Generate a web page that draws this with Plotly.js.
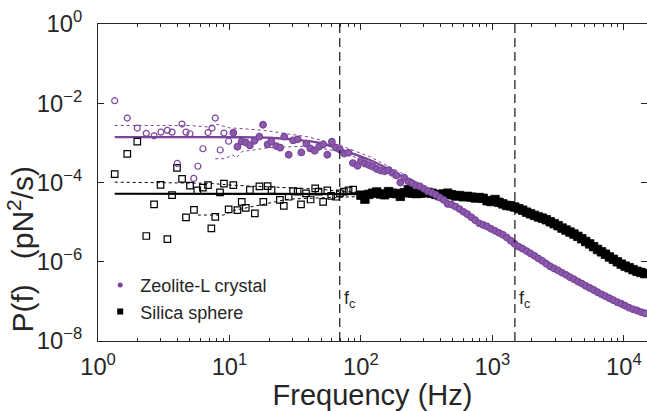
<!DOCTYPE html>
<html>
<head>
<meta charset="utf-8">
<script src="https://cdn.plot.ly/plotly-3.0.1.min.js"></script>
<style>
  html, body { margin: 0; padding: 0; background: #ffffff; }
  #chart { width: 647px; height: 411px; }
</style>
</head>
<body>
<div id="chart"></div>
<script>
// ---------- Data ----------
// Zeolite-L crystal: low-frequency open circles
const zeoOpenF = [1.34, 1.67, 1.99, 2.33, 2.67, 3.01, 3.37, 3.66, 4.01, 4.36, 4.67, 5.01, 5.35, 5.75, 6.28, 6.87, 7.36, 7.80, 8.51, 9.08, 9.86];
const zeoOpenP = [1.16e-2, 4.23e-3, 2.37e-3, 1.74e-3, 1.51e-3, 1.87e-3, 2.07e-3, 1.87e-3, 3.03e-4, 2.99e-3, 1.87e-3, 1.70e-3, 1.27e-4, 2.57e-4, 7.10e-4, 1.82e-3, 2.37e-3, 4.23e-3, 6.61e-4, 1.77e-3, 1.10e-3];

// Zeolite-L crystal: filled circles, 10 - 95 Hz
const zeoMidF = [10.7, 11.5, 12.4, 13.3, 14.3, 15.5, 16.9, 18.0, 19.5, 20.8, 22.7, 24.3, 26.1, 28.2, 30.5, 33.0, 35.2, 38.4, 41.2, 44.5, 48.0, 51.6, 55.5, 60.1, 64.6, 69.2, 74.6, 80.5, 86.9, 94.2];
const zeoMidP = [1.80e-3, 7.98e-4, 1.09e-3, 1.02e-3, 8.63e-4, 1.13e-3, 1.43e-3, 2.87e-3, 9.12e-4, 1.09e-3, 8.32e-4, 7.59e-4, 1.43e-3, 5.01e-4, 1.15e-3, 1.23e-3, 5.75e-4, 9.55e-4, 7.24e-4, 6.31e-4, 7.98e-4, 9.12e-4, 5.01e-4, 1.07e-3, 7.59e-4, 6.76e-4, 5.37e-4, 5.62e-4, 3.09e-4, 2.63e-4];

// Shared high-frequency bins (Hz)
const freqHigh = [100, 107.2, 114.8, 123.0, 131.8, 141.3, 151.4, 162.2, 173.8, 186.2,
  199.5, 213.8, 229.1, 245.5, 263.0, 281.8, 302.0, 323.6, 346.7, 371.5,
  398.1, 426.6, 457.1, 489.8, 524.8, 562.3, 602.6, 645.7, 691.8, 741.3,
  794.3, 851.1, 912.0, 977.2, 1047, 1122, 1202, 1288, 1380, 1479,
  1585, 1698, 1820, 1950, 2089, 2239, 2399, 2570, 2754, 2951,
  3162, 3388, 3631, 3890, 4169, 4467, 4786, 5129, 5495, 5888,
  6310, 6761, 7244, 7762, 8318, 8913, 9550, 10230, 10960, 11750,
  12590, 13490, 14450];

const zeoHighP = [3.55e-4, 3.02e-4, 2.75e-4, 2.51e-4, 2.19e-4, 2.00e-4, 1.91e-4, 2.04e-4, 1.74e-4, 1.51e-4,
  1.00e-4, 1.32e-4, 1.07e-4, 9.55e-5, 8.51e-5, 7.94e-5, 6.92e-5, 6.03e-5, 5.50e-5, 4.90e-5,
  4.17e-5, 3.63e-5, 2.88e-5, 2.75e-5, 2.46e-5, 2.14e-5, 1.82e-5, 1.58e-5, 1.32e-5, 1.12e-5,
  9.33e-6, 8.51e-6, 7.76e-6, 6.76e-6, 6.03e-6, 5.37e-6, 4.79e-6, 4.07e-6, 3.39e-6, 2.82e-6,
  2.40e-6, 2.14e-6, 1.86e-6, 1.62e-6, 1.41e-6, 1.20e-6, 1.05e-6, 8.91e-7, 7.59e-7, 6.76e-7,
  6.03e-7, 5.25e-7, 4.68e-7, 4.07e-7, 3.63e-7, 3.16e-7, 2.82e-7, 2.46e-7, 2.19e-7, 1.95e-7,
  1.70e-7, 1.51e-7, 1.35e-7, 1.20e-7, 1.07e-7, 9.55e-8, 8.71e-8, 7.76e-8, 6.92e-8, 6.31e-8,
  5.89e-8, 5.37e-8, 5.01e-8];

// Silica sphere: open squares up to ~90 Hz
const silOpenF = [1.34, 1.67, 1.99, 2.33, 2.67, 2.99, 3.37, 3.66, 3.99, 4.36, 4.67, 5.01, 5.37, 5.69, 6.28, 6.87, 7.28, 7.80, 8.47, 9.08, 9.86,
  10.7, 11.5, 12.4, 13.3, 14.3, 15.6, 16.9, 18.1, 19.5, 20.9, 24.2, 25.9, 28.2, 30.5, 33.0, 35.0, 38.2, 41.4, 44.9, 47.6, 51.6, 55.5, 59.4, 64.6, 69.2, 74.1, 80.5, 87.3];
const silOpenP = [1.62e-4, 5.25e-4, 1.07e-3, 4.47e-6, 2.82e-5, 8.71e-5, 3.72e-6, 4.81e-5, 2.34e-4, 1.23e-4, 1.32e-5, 8.32e-5, 2.04e-5, 6.31e-5, 7.41e-5, 8.59e-5, 6.92e-6, 1.35e-5, 5.62e-5, 9.33e-5, 2.09e-5,
  8.59e-5, 2.00e-5, 3.24e-5, 2.29e-5, 6.46e-5, 1.66e-5, 7.94e-5, 3.24e-5, 8.13e-5, 6.46e-5, 3.63e-5, 2.57e-5, 4.37e-5, 6.07e-5, 5.89e-5, 2.82e-5, 5.30e-5, 3.72e-5, 7.08e-5, 5.89e-5, 3.24e-5, 6.31e-5, 4.62e-5, 4.37e-5, 5.30e-5, 5.89e-5, 6.31e-5, 6.61e-5];

const silHighP = [4.79e-5, 3.80e-5, 5.01e-5, 5.37e-5, 5.75e-5, 5.13e-5, 4.90e-5, 5.89e-5, 5.37e-5, 5.25e-5,
  4.47e-5, 5.50e-5, 6.61e-5, 5.37e-5, 5.25e-5, 5.37e-5, 5.50e-5, 5.62e-5, 5.37e-5, 5.01e-5,
  4.68e-5, 5.13e-5, 5.37e-5, 4.90e-5, 4.57e-5, 4.68e-5, 4.37e-5, 4.47e-5, 4.27e-5, 4.07e-5,
  4.17e-5, 3.98e-5, 3.47e-5, 3.31e-5, 3.72e-5, 3.16e-5, 2.88e-5, 2.63e-5, 2.57e-5, 2.40e-5,
  2.19e-5, 2.00e-5, 1.78e-5, 1.62e-5, 1.48e-5, 1.35e-5, 1.26e-5, 1.15e-5, 1.02e-5, 9.12e-6,
  8.13e-6, 7.08e-6, 6.31e-6, 5.62e-6, 5.01e-6, 4.37e-6, 3.80e-6, 3.24e-6, 2.82e-6, 2.40e-6,
  2.04e-6, 1.78e-6, 1.55e-6, 1.32e-6, 1.15e-6, 1.00e-6, 8.71e-7, 7.76e-7, 7.08e-7, 6.31e-7,
  5.75e-7, 5.37e-7, 5.01e-7];

// Lorentzian fit curves and their confidence bands (read points)
const zeoFitF = [1.34, 5, 10, 20, 30, 50, 69, 117, 200, 500, 1000, 3000, 10000];
const zeoFitP = [1.40e-3, 1.40e-3, 1.39e-3, 1.35e-3, 1.23e-3, 9.8e-4, 6.9e-4, 3.7e-4, 1.5e-4, 2.6e-5, 6.6e-6, 7.4e-7, 7.0e-8];
const zeoUpF = [1.34, 5, 7, 8, 10, 18, 40, 69, 117, 200, 300];
const zeoUpP = [2.75e-3, 2.75e-3, 2.51e-3, 2.95e-3, 2.40e-3, 2.09e-3, 1.41e-3, 8.7e-4, 4.47e-4, 1.78e-4, 7.94e-5];
const zeoLoF = [7.8, 9.3, 10.5, 11.3, 12.5, 20, 40, 69, 117, 200];
const zeoLoP = [3.98e-4, 3.98e-4, 5.01e-4, 4.2e-4, 6.03e-4, 7.59e-4, 8.32e-4, 6.03e-4, 3.16e-4, 1.26e-4];

const silFitF = [1.34, 200, 500, 1000, 1483, 3000, 6000, 14450];
const silFitP = [5.2e-5, 5.1e-5, 4.8e-5, 3.6e-5, 2.6e-5, 1.0e-5, 2.6e-6, 5.0e-7];
const silUpF = [1.34, 7, 10.7, 20, 51, 69, 120];
const silUpP = [1.02e-4, 9.55e-5, 8.51e-5, 7.76e-5, 6.76e-5, 5.89e-5, 5.62e-5];
const silLoF = [5.75, 9, 11, 18, 28, 50, 69, 120];
const silLoP = [1.51e-5, 1.51e-5, 2.0e-5, 2.82e-5, 3.8e-5, 4.1e-5, 4.3e-5, 4.5e-5];

// Corner frequencies (Hz)
const cornerF = [69, 1483];
const yLimits = [1e-8, 1];

const seriesNames = ['Zeolite-L crystal', 'Silica sphere'];
const xTitle = 'Frequency (Hz)';
const yTitle = 'P(f)\u00a0\u00a0\u00a0(pN<sup>2</sup>/s)';

// ---------- Styles ----------
const PURPLE = '#7B449B';
const INK = '#262626';

const traces = [];

// Silica fit bands and fit
traces.push({x: silUpF, y: silUpP, mode: 'lines', line: {color: '#000', width: 1, dash: 'dot'}, showlegend: false, hoverinfo: 'skip'});
traces.push({x: silLoF, y: silLoP, mode: 'lines', line: {color: '#000', width: 1, dash: 'dot'}, showlegend: false, hoverinfo: 'skip'});
traces.push({x: silFitF, y: silFitP, mode: 'lines', line: {color: '#000', width: 2.2, shape: 'spline'}, showlegend: false, hoverinfo: 'skip'});
// Zeolite fit bands and fit
traces.push({x: zeoUpF, y: zeoUpP, mode: 'lines', line: {color: PURPLE, width: 1, dash: 'dot'}, showlegend: false, hoverinfo: 'skip'});
traces.push({x: zeoLoF, y: zeoLoP, mode: 'lines', line: {color: PURPLE, width: 1, dash: 'dot'}, showlegend: false, hoverinfo: 'skip'});
traces.push({x: zeoFitF, y: zeoFitP, mode: 'lines', line: {color: PURPLE, width: 2.4, shape: 'spline'}, showlegend: false, hoverinfo: 'skip'});

// Silica markers
traces.push({x: silOpenF, y: silOpenP, mode: 'markers', showlegend: false,
  marker: {symbol: 'square-open', size: 6.5, color: '#000', line: {width: 1.2, color: '#000'}}});
traces.push({x: freqHigh, y: silHighP, mode: 'markers', showlegend: false,
  marker: {symbol: 'square', size: 8.5, color: '#000', line: {width: 0.8, color: '#000'}}});

// Zeolite markers
traces.push({x: zeoOpenF, y: zeoOpenP, mode: 'markers', showlegend: false,
  marker: {symbol: 'circle-open', size: 6, color: PURPLE, line: {width: 1.2, color: PURPLE}}});
traces.push({x: zeoMidF.concat(freqHigh), y: zeoMidP.concat(zeoHighP), mode: 'markers', showlegend: false,
  marker: {symbol: 'circle', size: 6.5, color: '#8a5aab', line: {width: 1.3, color: PURPLE}}});

// Corner frequency lines
cornerF.forEach(function (fc) {
  traces.push({x: [fc, fc], y: yLimits, mode: 'lines', line: {color: '#000', width: 1.1, dash: '9px,5px'}, showlegend: false, hoverinfo: 'skip'});
});

// Legend entries
traces.push({x: [null], y: [null], mode: 'markers', name: seriesNames[0],
  marker: {symbol: 'circle', size: 5, color: PURPLE}});
traces.push({x: [null], y: [null], mode: 'markers', name: seriesNames[1],
  marker: {symbol: 'square', size: 6, color: '#000'}});

const FONT = 'Liberation Sans, Arial, Helvetica, sans-serif';

const annotations = cornerF.map(function (fc) {
  return {x: Math.log10(fc), xref: 'x', y: 0.13, yref: 'paper', text: 'f<sub>c</sub>',
    showarrow: false, xanchor: 'left', yanchor: 'middle', xshift: 2,
    font: {family: FONT, size: 18, color: INK}};
});
annotations.push({x: -0.14, xref: 'paper', y: 0.019, yref: 'paper', text: yTitle,
  textangle: -90, showarrow: false, xanchor: 'center', yanchor: 'bottom',
  font: {family: FONT, size: 30, color: INK}});

const layout = {
  width: 647, height: 411,
  margin: {l: 98, r: 0, t: 24, b: 70, pad: 0},
  paper_bgcolor: '#ffffff', plot_bgcolor: '#ffffff',
  font: {family: FONT, color: INK},
  showlegend: true,
  legend: {x: 0.004, y: 0.035, xanchor: 'left', yanchor: 'bottom', bgcolor: 'rgba(0,0,0,0)',
    font: {family: FONT, size: 18, color: INK}, tracegroupgap: 0},
  xaxis: {
    type: 'log', range: [0, 4.176], autorange: false,
    tickmode: 'linear', tick0: 0, dtick: 1, exponentformat: 'power',
    labelalias: {'1': '10<sup>0</sup>', '10': '10<sup>1</sup>'},
    ticks: 'inside', ticklen: 6, tickwidth: 1, tickcolor: INK,
    showline: true, linecolor: INK, linewidth: 1, mirror: 'ticks',
    showgrid: false, zeroline: false, ticklabelstandoff: 5,
    tickfont: {family: FONT, size: 19, color: INK},
    minor: {ticks: 'inside', ticklen: 3, dtick: 'D1', tickcolor: INK, showgrid: false},
    title: {text: xTitle, font: {family: FONT, size: 29, color: INK}, standoff: 6}
  },
  yaxis: {
    type: 'log', range: [-8, 0], autorange: false,
    tickmode: 'linear', tick0: 0, dtick: 2, exponentformat: 'power',
    labelalias: {'1': '10<sup>0</sup>'},
    ticks: 'inside', ticklen: 6, tickwidth: 1, tickcolor: INK,
    showline: true, linecolor: INK, linewidth: 1, mirror: 'ticks',
    showgrid: false, zeroline: false, ticklabelstandoff: 11,
    tickfont: {family: FONT, size: 19, color: INK}
  },
  annotations: annotations
};

Plotly.newPlot('chart', traces, layout, {displayModeBar: false, staticPlot: true});
</script>
</body>
</html>
